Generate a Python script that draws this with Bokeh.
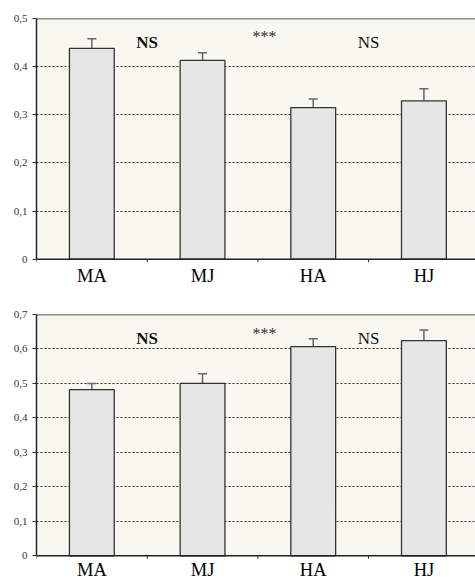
from bokeh.plotting import figure
from bokeh.layouts import column
from bokeh.models import Range1d, FixedTicker, Span, Whisker, TeeHead, ColumnDataSource, BoxAnnotation
from bokeh.core.properties import value
from bokeh.embed import file_html
from bokeh.resources import INLINE

categories = ["MA", "MJ", "HA", "HJ"]
top_values = [0.438, 0.413, 0.315, 0.329]
top_caps = [0.458, 0.429, 0.333, 0.354]
bottom_values = [0.482, 0.500, 0.607, 0.624]
bottom_caps = [0.500, 0.528, 0.630, 0.655]
top_yticks = [0, 0.1, 0.2, 0.3, 0.4, 0.5]
bottom_yticks = [0, 0.1, 0.2, 0.3, 0.4, 0.5, 0.6, 0.7]
sig_labels = ["NS", "***", "NS"]
sig_x = [1.0, 2.06, 3.0]
top_sig_y = [0.451, 0.462, 0.451]
bottom_sig_y = [0.630, 0.646, 0.630]

SERIF = "Liberation Serif"
TICK_PX = 3


def make_panel(vals, caps, yticks, sig_y, height, border_top, zero_px, label_offset):
    ymax = yticks[-1]
    n = len(categories)
    xs = [i + 0.5 for i in range(n)]
    bounds = [float(i) for i in range(n)]
    # the frame reaches below zero so that the category names can sit under the axis
    frame_h = height - border_top
    scale = (zero_px - border_top) / ymax
    ymin = -(frame_h - (zero_px - border_top)) / scale
    p = figure(width=475, height=height, output_backend="svg", toolbar_location=None,
               x_range=Range1d(0, 3.966), y_range=Range1d(ymin, ymax),
               x_axis_location=None,
               min_border_left=36, min_border_right=0,
               min_border_top=border_top, min_border_bottom=0)
    p.background_fill_color = "white"
    p.border_fill_color = "white"
    p.outline_line_color = None

    # plot-area tint (only above zero)
    p.add_layout(BoxAnnotation(bottom=0, fill_color="#f8f7f0", fill_alpha=1,
                               line_color=None, level="image"))

    # grid
    p.xgrid.visible = False
    p.ygrid.ticker = FixedTicker(ticks=yticks[1:-1])
    p.ygrid.grid_line_color = "#333333"
    p.ygrid.grid_line_dash = "2 2"
    p.ygrid.grid_line_width = 1

    # top border line
    p.add_layout(Span(location=ymax, dimension="width", line_color="#222222", line_width=1.5))

    src = ColumnDataSource(dict(x=xs, top=vals, cap=caps, base=[0] * n, name=categories))
    p.vbar(x="x", top="top", bottom=0, width=0.405, source=src,
           fill_color="#e6e6e6", line_color="#333333", line_width=1.3)
    p.add_layout(Whisker(source=src, base="x", lower="top", upper="cap",
                         line_color="#666666", line_width=1.5,
                         upper_head=TeeHead(size=9, line_color="#666666", line_width=1.5),
                         lower_head=None))

    # x axis line at zero with small ticks between categories
    p.add_layout(Span(location=0, dimension="width", line_color="#222222", line_width=1.5,
                      level="overlay"))
    p.segment(x0=bounds, y0=[0] * n, x1=bounds, y1=[-TICK_PX / scale] * n,
              line_color="#333333", line_width=1)

    # category names under the axis
    p.text(x="x", y="base", text="name", source=src, y_offset=label_offset,
           text_font=value(SERIF), text_font_size="18.5px", text_align="center",
           text_baseline="alphabetic", text_color="#000000")

    # significance labels
    p.text(x=[sig_x[0]], y=[sig_y[0]], text=[sig_labels[0]], text_font=value(SERIF),
           text_font_size="17px", text_font_style="bold", text_align="center",
           text_baseline="middle", text_color="#111111")
    p.text(x=[sig_x[1]], y=[sig_y[1]], text=[sig_labels[1]], text_font=value(SERIF),
           text_font_size="16px", text_align="center",
           text_baseline="middle", text_color="#333333")
    p.text(x=[sig_x[2]], y=[sig_y[2]], text=[sig_labels[2]], text_font=value(SERIF),
           text_font_size="17px", text_align="center",
           text_baseline="middle", text_color="#111111")

    # y axis
    ya = p.yaxis[0]
    ya.bounds = (0, ymax)
    ya.ticker = FixedTicker(ticks=yticks)
    ya.major_label_overrides = {t: ("0" if t == 0 else ("%.1f" % t).replace(".", ",")) for t in yticks}
    ya.major_tick_out = 4
    ya.major_tick_in = 0
    ya.minor_tick_line_color = None
    ya.major_tick_line_color = "#333333"
    ya.axis_line_color = "#222222"
    ya.axis_line_width = 1.5
    ya.major_label_standoff = 5
    ya.major_label_text_font = SERIF
    ya.major_label_text_font_size = "11px"
    ya.major_label_text_color = "#333333"
    return p


p1 = make_panel(top_values, top_caps, top_yticks, top_sig_y, 290, 18, 258.7, 16.5)
p2 = make_panel(bottom_values, bottom_caps, bottom_yticks, bottom_sig_y, 289, 24, 265.3, 14)

layout = column(p1, p2, spacing=0)
open("out.html", "w").write(file_html(layout, INLINE))
